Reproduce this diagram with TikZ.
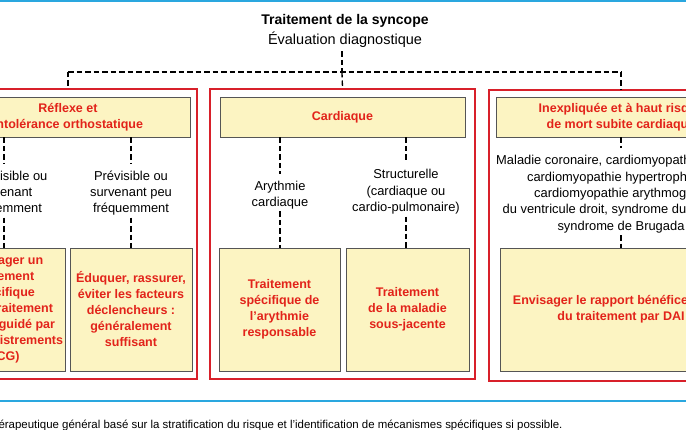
\documentclass[tikz,border=0pt]{standalone}
\usepackage{fontspec}
\setmainfont{Liberation Sans}
\usetikzlibrary{positioning}

\definecolor{textred}{HTML}{E2231A}
\definecolor{framered}{HTML}{D8202A}
\definecolor{boxyellow}{HTML}{FCF4C2}
\definecolor{boxedge}{HTML}{555555}
\definecolor{ruleblue}{HTML}{2AA7DF}

\newcommand{\titlefont}{\fontsize{14}{17}\selectfont\bfseries}
\newcommand{\subfont}{\fontsize{14.5}{17}\selectfont}
\newcommand{\infofont}{\fontsize{12.9}{16.4}\selectfont}
\newcommand{\boxfont}{\fontsize{12.5}{16}\selectfont\bfseries}
\newcommand{\footfont}{\fontsize{11.45}{13}\selectfont}

\tikzset{
	frame/.style={draw=framered, line width=1.6pt, inner sep=0pt},
	hdrbox/.style={draw=boxedge, fill=boxyellow, line width=0.9pt, minimum height=40pt, inner sep=0pt, text=textred, font=\boxfont, align=center},
	treatbox/.style={draw=boxedge, fill=boxyellow, line width=0.9pt, minimum height=123pt, inner sep=0pt, text=textred, font=\boxfont, align=center},
	info/.style={font=\infofont, align=center, inner sep=2pt},
	link/.style={draw=black, line width=1.3pt, dash pattern=on 5.5pt off 3pt},
	blueline/.style={draw=ruleblue, line width=1.6pt}
}

\begin{document}
\begin{tikzpicture}[x=1pt, y=-1pt]

	\useasboundingbox (0,0) rectangle (686,430);
	\clip (0,0) rectangle (686,430);
	\fill[white] (0,0) rectangle (686,430);

	% draw rules
	\draw[blueline] (0,1) -- (686,1);
	\draw[blueline] (0,401) -- (686,401);

	% draw title
	\node[font=\titlefont] (title) at (345,21) {Traitement de la syncope};
	\node[font=\subfont] (diag) at (345,40) {Évaluation diagnostique};

	% draw frames
	\node[frame, minimum width=258pt, minimum height=290pt] (frRefl) at (68,234) {};
	\node[frame, minimum width=265pt, minimum height=290pt] (frCard) at (342.5,234) {};
	\node[frame, minimum width=264pt, minimum height=291pt] (frInex) at (621,235.5) {};

	% draw headers
	\node[hdrbox, minimum width=244pt] (refl) at (68,117) {Réflexe et\\intolérance orthostatique};
	\node[hdrbox, minimum width=245pt] (card) at (342.5,117) {Cardiaque};
	\node[hdrbox, minimum width=250pt] (inex) at (621,117) {Inexpliquée et à haut risque\\de mort subite cardiaque};

	% draw fork
	\coordinate (fork) at (342,72);
	\coordinate (forkL) at (68,72);
	\coordinate (forkR) at (621,72);
	\draw[link] (diag.south -| fork) -- (fork);
	\draw[link] (forkL) -- (forkR);
	\foreach \f/\b in {forkL/frRefl, fork/frCard, forkR/frInex}
	{
		\draw[link] (\f) -- (\b.north);
	}

	% draw sub-categories
	\node[info] (imprev) at (4,193) {Imprévisible ou\\survenant\\fréquemment};
	\node[info] (prev) at (131,193) {Prévisible ou\\survenant peu\\fréquemment};
	\node[info] (aryth) at (280,195) {Arythmie\\cardiaque};
	\node[info] (struct) at (406,192) {Structurelle\\(cardiaque ou\\cardio-pulmonaire)};
	\node[info] (malad) at (621,194) {Maladie coronaire, cardiomyopathie dilatée,\\cardiomyopathie hypertrophique,\\cardiomyopathie arythmogène\\du ventricule droit, syndrome du QT long,\\syndrome de Brugada};

	% draw treatments
	\node[treatbox, minimum width=122pt] (treatA) at (4,309.5) {Envisager un\\traitement\\spécifique\\ou un traitement\\différé (guidé par\\les enregistrements\\ECG)};
	\node[treatbox, minimum width=122pt] (treatB) at (131,309.5) {Éduquer, rassurer,\\éviter les facteurs\\déclencheurs :\\généralement\\suffisant};
	\node[treatbox, minimum width=121pt] (treatC) at (279.5,309.5) {Traitement\\spécifique de\\l’arythmie\\responsable};
	\node[treatbox, minimum width=123pt] (treatD) at (407.5,309.5) {Traitement\\de la maladie\\sous-jacente};
	\node[treatbox, minimum width=242pt] (treatE) at (621,309.5) {Envisager le rapport bénéfice/risque\\du traitement par DAI};

	% draw edges
	\foreach \h/\s/\t in {refl/imprev/treatA, refl/prev/treatB, card/aryth/treatC, card/struct/treatD, inex/malad/treatE}
	{
		\draw[link, shorten >=5pt] (\s.north |- \h.south) -- (\s.north);
		\draw[link] (\s.south) -- (\s.south |- \t.north);
	}

	% draw caption
	\node[font=\footfont, anchor=east] (caption) at (566,425) {Cadre thérapeutique général basé sur la stratification du risque et l’identification de mécanismes spécifiques si possible.};

\end{tikzpicture}
\end{document}
